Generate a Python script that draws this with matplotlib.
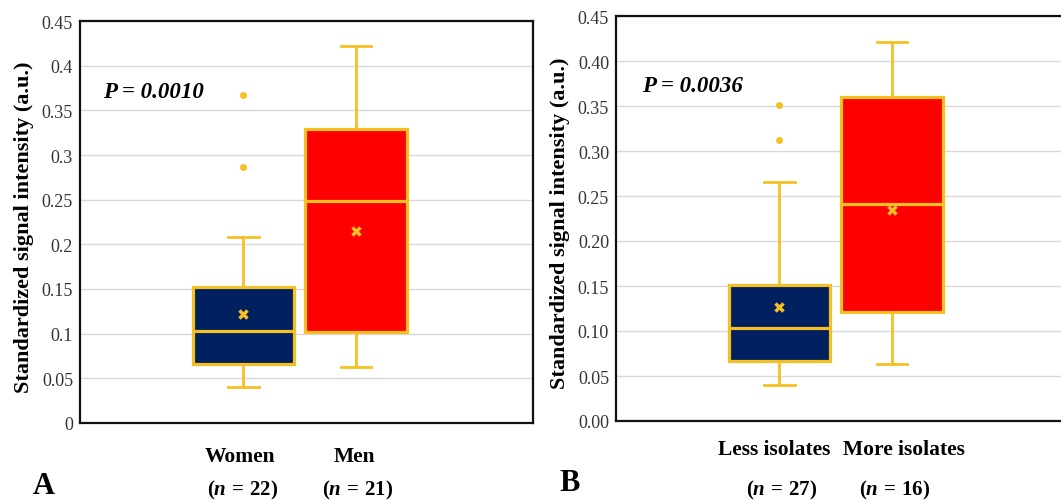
import matplotlib
matplotlib.use("Agg")
import matplotlib.pyplot as plt

plt.rcParams['font.family'] = ['Liberation Serif', 'DejaVu Serif']
plt.rcParams['mathtext.fontset'] = 'custom'
plt.rcParams['mathtext.rm'] = 'Liberation Serif:bold'
plt.rcParams['mathtext.it'] = 'Liberation Serif:italic:bold'
plt.rcParams['mathtext.bf'] = 'Liberation Serif:bold'

# panel A: sex
groups_a = ['Women', 'Men']
n_a = [22, 21]
whislo_a = [0.040, 0.063]
q1_a = [0.066, 0.102]
med_a = [0.103, 0.249]
q3_a = [0.152, 0.329]
whishi_a = [0.208, 0.422]
mean_a = [0.122, 0.215]
fliers_a = [[0.367, 0.287], []]
p_a = 'P = 0.0010'
yticks_a = [0, 0.05, 0.1, 0.15, 0.2, 0.25, 0.3, 0.35, 0.4, 0.45]
ylabels_a = ['0', '0.05', '0.1', '0.15', '0.2', '0.25', '0.3', '0.35', '0.4', '0.45']

# panel B: number of isolates
groups_b = ['Less isolates', 'More isolates']
n_b = [27, 16]
whislo_b = [0.040, 0.063]
q1_b = [0.067, 0.121]
med_b = [0.103, 0.241]
q3_b = [0.151, 0.360]
whishi_b = [0.266, 0.421]
mean_b = [0.127, 0.235]
fliers_b = [[0.351, 0.312], []]
p_b = 'P = 0.0036'
yticks_b = [0, 0.05, 0.1, 0.15, 0.2, 0.25, 0.3, 0.35, 0.4, 0.45]
ylabels_b = ['0.00', '0.05', '0.10', '0.15', '0.20', '0.25', '0.30', '0.35', '0.40', '0.45']

box_colors = ['#002060', '#ff0000']
gold = '#f5c024'

W, H = 1061, 502
fig = plt.figure(figsize=(W / 100, H / 100), dpi=100)


def px(x, y):
    # figure pixel coords (from top-left) -> figure fraction
    return x / W, 1 - y / H


def panel(rect, whislo, q1, med, q3, whishi, mean, fliers, yticks, ylabels):
    l, t, r, b = rect
    ax = fig.add_axes([l / W, 1 - b / H, (r - l) / W, (b - t) / H])
    stats = []
    for i in range(2):
        stats.append(dict(whislo=whislo[i], q1=q1[i], med=med[i], q3=q3[i],
                          whishi=whishi[i], mean=mean[i], fliers=fliers[i]))
    bp = ax.bxp(stats, positions=[1, 2], widths=0.9, capwidths=0.27,
                patch_artist=True, showmeans=True,
                boxprops=dict(linewidth=2.3, edgecolor=gold),
                medianprops=dict(color=gold, linewidth=2.3),
                whiskerprops=dict(color=gold, linewidth=2.0),
                capprops=dict(color=gold, linewidth=2.0),
                meanprops=dict(marker='x', markeredgecolor=gold, markersize=6,
                               markeredgewidth=2.5),
                flierprops=dict(marker='o', markerfacecolor=gold,
                                markeredgecolor=gold, markersize=4))
    for patch, c in zip(bp['boxes'], box_colors):
        patch.set_facecolor(c)
    ax.set_xlim(-0.45, 3.57)
    ax.set_ylim(0, 0.45)
    ax.set_yticks(yticks)
    ax.set_yticklabels(ylabels)
    ax.set_xticks([])
    ax.tick_params(axis='y', length=0, pad=5, labelsize=13, labelcolor='#333333')
    ax.yaxis.grid(True, color='#d9d9d9', linewidth=1)
    ax.set_axisbelow(True)
    for s in ax.spines.values():
        s.set_color('#111111')
        s.set_linewidth(1.6)
    ax.set_ylabel('Standardized signal intensity (a.u.)', fontsize=16,
                  fontweight='bold', va='center')
    ax.yaxis.set_label_coords(-56 / (r - l), 0.49)
    return ax


ax_a = panel((80, 22, 533, 424), whislo_a, q1_a, med_a, q3_a, whishi_a,
             mean_a, fliers_a, yticks_a, ylabels_a)
ax_b = panel((616, 17, 1069, 422), whislo_b, q1_b, med_b, q3_b, whishi_b,
             mean_b, fliers_b, yticks_b, ylabels_b)

# p-values
fig.text(*px(103, 92), p_a, fontsize=16.5, fontweight='bold', fontstyle='italic',
         ha='left', va='center')
fig.text(*px(642, 87), p_b, fontsize=16.5, fontweight='bold', fontstyle='italic',
         ha='left', va='center')

# category labels and group sizes
for x, name, n in zip([240, 355], groups_a, n_a):
    fig.text(*px(x, 457), name, fontsize=15.5, fontweight='bold', ha='center', va='center')
    fig.text(*px(x + 3, 495), r'$(n\,=\,\mathit{%d})$' % n, fontsize=15, ha='center',
             va='baseline')
for x, name, n in zip([774, 904], groups_b, n_b):
    fig.text(*px(x, 450), name, fontsize=15.5, fontweight='bold', ha='center', va='center')
for x, n in zip([782, 895], n_b):
    fig.text(*px(x, 495), r'$(n\,=\,\mathit{%d})$' % n, fontsize=15, ha='center',
             va='baseline')

fig.text(*px(33, 487), 'A', fontsize=22, fontweight='bold', ha='left', va='center')
fig.text(*px(559, 484), 'B', fontsize=22, fontweight='bold', ha='left', va='center')

fig.savefig('out.png', dpi=100)
